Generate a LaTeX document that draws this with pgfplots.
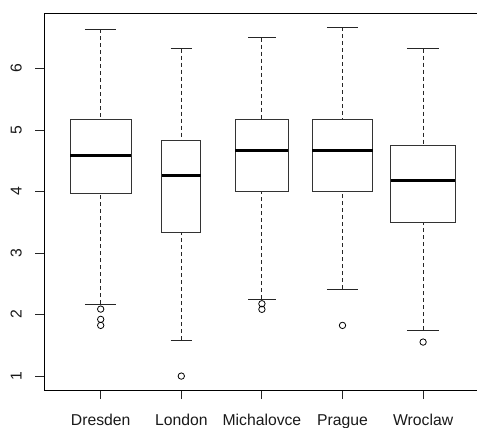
\documentclass[border=0pt]{standalone}
\usepackage{fontspec}
\setmainfont{Liberation Sans}
\usepackage{graphicx}
\usepackage{pgfplots}
\pgfplotsset{compat=1.18}
\usepgfplotslibrary{statistics}
\pgfplotsset{
  boxplot/draw direction=y,
  boxplot/draw/lower whisker/.code={%
    \draw[black!85, line width=0.75pt, dash pattern=on 3pt off 2.25pt]
      (boxplot box cs:\pgfplotsboxplotvalue{lower whisker},0.5) --
      (boxplot box cs:\pgfplotsboxplotvalue{lower quartile},0.5);
    \draw[black!85, line width=0.75pt]
      (boxplot whisker cs:\pgfplotsboxplotvalue{lower whisker},0) --
      (boxplot whisker cs:\pgfplotsboxplotvalue{lower whisker},1);
  },
  boxplot/draw/upper whisker/.code={%
    \draw[black!85, line width=0.75pt, dash pattern=on 3pt off 2.25pt]
      (boxplot box cs:\pgfplotsboxplotvalue{upper whisker},0.5) --
      (boxplot box cs:\pgfplotsboxplotvalue{upper quartile},0.5);
    \draw[black!85, line width=0.75pt]
      (boxplot whisker cs:\pgfplotsboxplotvalue{upper whisker},0) --
      (boxplot whisker cs:\pgfplotsboxplotvalue{upper whisker},1);
  },
  boxplot/every box/.style={draw=black!80, line width=0.75pt, fill=none},
  boxplot/every median/.style={draw=black, line width=2.4pt},
}
\begin{document}
\begin{tikzpicture}
\begin{axis}[
  at={(0,0)}, anchor=south west,
  scale only axis,
  width=326.4pt, height=282.5pt,
  xmin=0.3, xmax=5.7, ymin=0.773, ymax=6.897,
  axis line style={black, line width=0.75pt},
  tick align=outside, tick pos=left,
  major tick length=6.75pt,
  major tick style={black!85, line width=0.75pt},
  xtick={1,2,3,4,5},
  xticklabels={Dresden,London,Michalovce,Prague,Wroclaw},
  ytick={1,2,3,4,5,6},
  yticklabels={\rotatebox{90}{1},\rotatebox{90}{2},\rotatebox{90}{3},\rotatebox{90}{4},\rotatebox{90}{5},\rotatebox{90}{6}},
  tick label style={font=\fontsize{11.8}{13}\selectfont, text=black!90},
  yticklabel style={anchor=east, inner sep=0pt, xshift=-10pt},
  xticklabel style={yshift=-19.5pt, anchor=base, inner sep=0pt},
  clip=false,
]
\addplot[mark=o, mark size=2.4pt, mark options={line width=0.6pt, black},
  boxplot prepared={lower whisker=2.171, lower quartile=3.970, median=4.588,
    upper quartile=5.174, upper whisker=6.637, draw position=1,
    box extend=0.756, whisker extend=0.39}]
  table[row sep=\\, y index=0] {2.089\\ 1.922\\ 1.824\\};
\addplot[mark=o, mark size=2.4pt, mark options={line width=0.6pt, black},
  boxplot prepared={lower whisker=1.585, lower quartile=3.330, median=4.257,
    upper quartile=4.826, upper whisker=6.322, draw position=2,
    box extend=0.483, whisker extend=0.264}]
  table[row sep=\\, y index=0] {1.0\\};
\addplot[mark=o, mark size=2.4pt, mark options={line width=0.6pt, black},
  boxplot prepared={lower whisker=2.252, lower quartile=3.997, median=4.663,
    upper quartile=5.174, upper whisker=6.500, draw position=3,
    box extend=0.657, whisker extend=0.342}]
  table[row sep=\\, y index=0] {2.176\\ 2.085\\};
\addplot[mark=o, mark size=2.4pt, mark options={line width=0.6pt, black},
  boxplot prepared={lower whisker=2.415, lower quartile=3.997, median=4.663,
    upper quartile=5.174, upper whisker=6.669, draw position=4,
    box extend=0.756, whisker extend=0.39}]
  table[row sep=\\, y index=0] {1.824\\};
\addplot[mark=o, mark size=2.4pt, mark options={line width=0.6pt, black},
  boxplot prepared={lower whisker=1.748, lower quartile=3.504, median=4.176,
    upper quartile=4.745, upper whisker=6.322, draw position=5,
    box extend=0.797, whisker extend=0.40}]
  table[row sep=\\, y index=0] {1.553\\};
\end{axis}
\pgfresetboundingbox
\path[use as bounding box] (-33.2pt,-27.75pt) rectangle (324.5pt,292.5pt);
\end{tikzpicture}
\end{document}
